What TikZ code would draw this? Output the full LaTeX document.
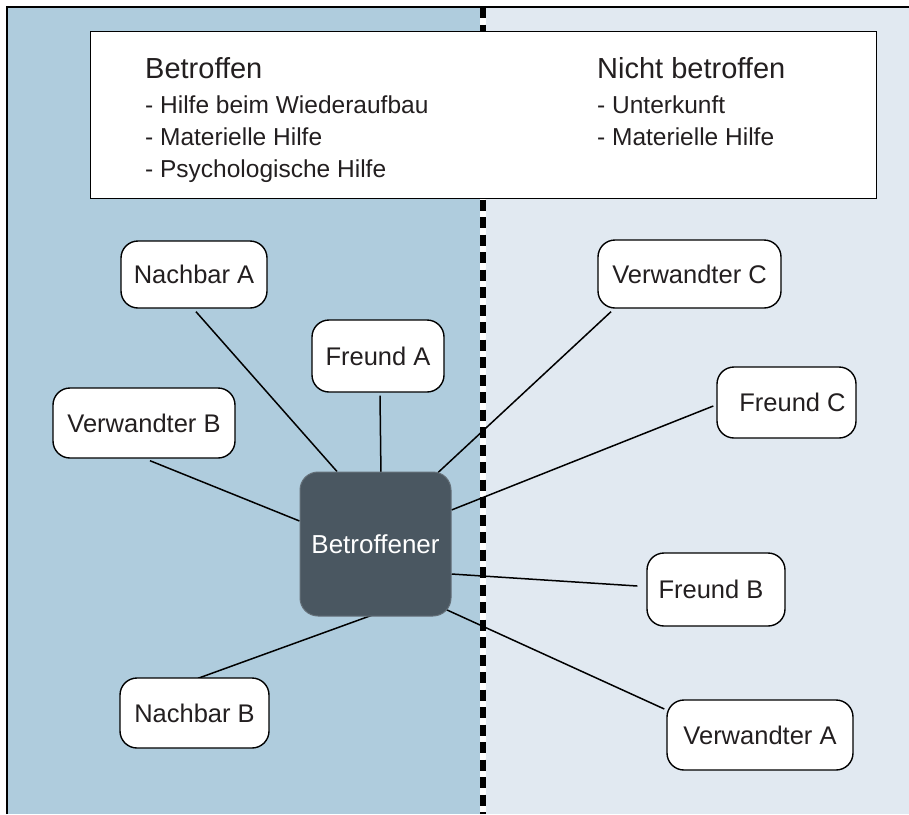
\documentclass[tikz,border=0pt]{standalone}
\usepackage{fontspec}
\setmainfont{Liberation Sans}
\usetikzlibrary{calc}
\definecolor{affected}{HTML}{AFCCDD}
\definecolor{unaffected}{HTML}{E1E9F1}
\definecolor{corefill}{HTML}{4A5761}
\definecolor{ink}{HTML}{231F20}
\pgfdeclarelayer{back}
\pgfdeclarelayer{links}
\pgfsetlayers{back,links,main}
\begin{document}
\begin{tikzpicture}[x=1pt,y=-1pt,
  contact/.style={draw=black, line width=1.4pt, fill=white, rounded corners=17pt,
    text=ink, font=\fontsize{25.5}{30}\selectfont, inner sep=0pt},
  link/.style={draw=black, line width=1.5pt},
  heading/.style={anchor=base west, inner sep=0pt, text=ink, font=\fontsize{29}{34}\selectfont},
  item/.style={anchor=base west, inner sep=0pt, text=ink, font=\fontsize{24.5}{30}\selectfont}]
\useasboundingbox (0,0) rectangle (909,814);

% two halves of the field and the divider
\begin{pgfonlayer}{back}
  \fill[white] (0,0) rectangle (909,814);
  \fill[affected] (7,7) rectangle (483,814);
  \fill[unaffected] (483,7) rectangle (909,814);
  \draw[line width=1.2pt] (7,814) -- (7,7) -- (909,7);
  \draw[white, line width=5.5pt] (483,7) -- (483,814);
  \draw[black, line width=5.5pt, dash pattern=on 11pt off 6.5pt] (483,7) -- (483,814);
\end{pgfonlayer}

% legend box
\node[draw=black, line width=1.4pt, fill=white, minimum width=786pt, minimum height=167pt,
  inner sep=0pt, anchor=north west] (legend) at (90,31) {};
\node[heading] (h1) at (145,78) {Betroffen};
\node[item] (l1) at (145,113) {- Hilfe beim Wiederaufbau};
\node[item] (l2) at (145,145) {- Materielle Hilfe};
\node[item] (l3) at (145,177) {- Psychologische Hilfe};
\node[heading] (h2) at (597,78) {Nicht betroffen};
\node[item] (r1) at (597,113) {- Unterkunft};
\node[item] (r2) at (597,145) {- Materielle Hilfe};

% central person
\node[fill=corefill, draw=corefill!85!white, line width=1pt, rounded corners=18pt,
  minimum width=151pt, minimum height=144pt, inner sep=0pt, text=white,
  font=\fontsize{26}{30}\selectfont] (core) at (375.5,544) {Betroffener};

% contacts
\node[contact, minimum width=146pt, minimum height=67pt] (na) at (194,274.5) {Nachbar A};
\node[contact, minimum width=132pt, minimum height=72pt] (fa) at (378,356) {Freund A};
\node[contact, minimum width=182pt, minimum height=70pt] (vb) at (144,423) {Verwandter B};
\node[contact, minimum width=149pt, minimum height=70pt] (nb) at (194.5,713) {Nachbar B};
\node[contact, minimum width=183pt, minimum height=68pt] (vc) at (689.5,274) {Verwandter C};
\node[contact, minimum width=139pt, minimum height=71pt] (fc) at (786.5,402.5) {\hspace*{12pt}Freund C};
\node[contact, minimum width=138pt, minimum height=73pt] (fb) at (716,589.5) {Freund B\hspace*{10pt}};
\node[contact, minimum width=186pt, minimum height=70pt] (va) at (760,735) {Verwandter A};

% connections
\begin{pgfonlayer}{links}
  \draw[link] ($(na.south)+(2,3)$) -- ($(core.north)+(-38.5,0)$);
  \draw[link] ($(fa.south)+(2,3)$) -- ($(core.north)+(5.5,5)$);
  \draw[link] ($(vb.south)+(6,2)$) -- ($(core.west)+(0,-23)$);
  \draw[link] ($(vc.south)+(-78.5,3)$) -- ($(core.north)+(61.5,2)$);
  \draw[link] ($(fc.west)+(-3,3.5)$) -- ($(core.east)+(0,-34)$);
  \draw[link] ($(core.east)+(0,30)$) -- ($(fb.west)+(-9,-3.5)$);
  \draw[link] ($(core.south)+(70.5,-7)$) -- ($(va.west)+(-2,-26)$);
  \draw[link] ($(core.south)+(9.5,-6)$) -- ($(nb.north)+(3.5,1)$);
\end{pgfonlayer}
\end{tikzpicture}
\end{document}
